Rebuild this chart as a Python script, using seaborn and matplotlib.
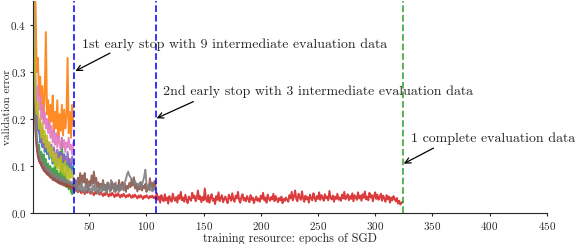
import numpy as np
import pandas as pd
import matplotlib
matplotlib.use("Agg")
import matplotlib.pyplot as plt
import seaborn as sns

# ---------------- data (validation error, in thousandths) ----------------
blue = [520, 340, 230, 200, 175, 185, 150, 170, 140, 160, 130, 150, 125, 145, 115, 140, 120, 105,
        135, 110, 125, 100, 120, 130, 105, 115, 95, 125, 100, 110, 90, 115, 95, 105, 85, 100]
orange = [750, 500, 440, 300, 330, 250, 290, 220, 270, 200, 250, 385, 210, 240, 180, 230, 195, 250,
          170, 215, 180, 240, 160, 210, 175, 230, 165, 220, 180, 205, 330, 170, 215, 160, 230, 185]
green = [480, 300, 200, 160, 130, 145, 115, 130, 105, 125, 95, 115, 90, 105, 85, 100, 80, 95,
         75, 110, 70, 90, 65, 85, 70, 160, 75, 60, 85, 55, 70, 50, 65, 45, 40, 60]
purple = [560, 360, 260, 190, 210, 170, 195, 150, 180, 140, 165, 135, 155, 125, 150, 120, 145, 115,
          140, 125, 110, 135, 120, 105, 130, 115, 125, 100, 120, 110, 130, 105, 115, 100, 120, 105]
pink = [620, 420, 260, 240, 270, 220, 250, 200, 230, 190, 215, 180, 200, 170, 195, 160, 185, 150,
        175, 145, 170, 140, 165, 150, 135, 160, 140, 155, 130, 150, 140, 160, 135, 145, 125, 150]
olive = [530, 380, 240, 210, 235, 180, 200, 160, 190, 150, 175, 140, 165, 130, 150, 120, 140, 110,
         130, 100, 125, 95, 115, 90, 120, 85, 105, 80, 110, 75, 100, 70, 95, 75, 90, 70]

brown = [450, 280, 170, 140, 120, 110, 115, 100, 105, 90, 95, 85, 90, 80, 85, 75, 80, 70,
         78, 68, 75, 65, 72, 62, 70, 60, 68, 58, 65, 60, 70, 58, 64, 55, 62, 60,
         55, 70, 50, 75, 60, 85, 58, 80, 65, 85, 55, 72, 50, 68, 58, 80, 62, 88,
         65, 75, 55, 65, 48, 62, 52, 70, 50, 60, 45, 65, 52, 58, 48, 66, 52, 62,
         45, 58, 50, 70, 48, 60, 66, 50, 62, 45, 58, 52, 64, 55, 72, 58, 76, 52,
         62, 46, 58, 50, 66, 48, 58, 52, 62, 45, 55, 50, 74, 56, 64, 48, 68, 56]
gray = [480, 300, 200, 160, 145, 130, 120, 110, 115, 100, 105, 92, 98, 88, 95, 82, 90, 78,
        85, 75, 82, 72, 78, 70, 76, 68, 74, 66, 72, 65, 70, 62, 68, 60, 66, 64,
        62, 50, 68, 45, 58, 48, 65, 45, 55, 42, 60, 48, 62, 45, 52, 42, 58, 48,
        64, 45, 55, 40, 50, 58, 45, 66, 48, 58, 42, 52, 62, 45, 70, 52, 58, 45,
        65, 48, 55, 45, 60, 50, 58, 48, 65, 72, 82, 88, 80, 76, 72, 70, 64, 68,
        60, 62, 56, 64, 52, 60, 68, 78, 92, 62, 54, 60, 48, 58, 46, 55, 50, 52]
red = [460, 290, 180, 145, 125, 115, 105, 110, 95, 100, 88, 92, 82, 86, 78, 82, 74, 78,
       70, 74, 67, 70, 64, 68, 62, 65, 60, 63, 58, 61, 56, 59, 54, 57, 52, 55,
       45, 52, 48, 44, 50, 46, 42, 48, 45, 40, 47, 43, 50, 44, 41, 46, 42, 38,
       45, 41, 47, 43, 39, 44, 40, 36, 42, 38, 44, 40, 35, 41, 37, 43, 39, 34,
       40, 36, 42, 38, 33, 39, 35, 41, 37, 33, 38, 35, 40, 36, 32, 38, 34, 39,
       35, 31, 37, 33, 38, 34, 30, 36, 33, 38, 34, 31, 36, 33, 37, 32, 35, 30,
       42, 28, 35, 22, 38, 30, 25, 40, 27, 33, 20, 36, 29, 24, 41, 31, 26, 34, 22, 38,
       30, 45, 27, 33, 24, 39, 28, 21, 35, 30, 26, 43, 32, 37, 25, 31, 48, 29, 36, 23,
       34, 27, 52, 30, 24, 38, 22, 33, 40, 26, 31, 19, 36, 28, 44, 25, 32, 38, 23, 30,
       35, 27, 21, 39, 33, 26, 42, 29, 24, 37, 31, 45, 28, 22, 34, 40, 27, 32, 25, 36,
       30, 23, 38, 28, 33, 21, 29, 35, 26, 31, 24, 37, 30, 43, 27, 33, 22, 39, 31, 26,
       34, 29, 41, 25, 36, 30, 23, 32, 27, 35, 21, 30, 26, 33, 28, 24, 38, 31, 45, 27,
       35, 48, 30, 25, 41, 33, 28, 46, 31, 24, 37, 29, 34, 22, 39, 31, 27, 42, 33, 25,
       36, 30, 44, 28, 38, 33, 26, 40, 31, 35, 27, 47, 32, 29, 37, 24, 35, 30, 41, 28,
       33, 26, 39, 31, 45, 29, 34, 40, 27, 36, 30, 42, 25, 38, 33, 28, 44, 31, 37, 26,
       40, 32, 46, 29, 35, 27, 43, 33, 38, 25, 36, 44, 30, 39, 28, 34, 41, 26, 37, 31,
       24, 38, 29, 35, 22, 33, 27, 36, 30, 25, 32, 20, 26, 18, 22, 24]

series_names = ["blue", "orange", "green", "red", "purple", "brown", "pink", "gray", "olive"]
series_values = [blue, orange, green, red, purple, brown, pink, gray, olive]
series_colors = ["#1f77b4", "#ff7f0e", "#2ca02c", "#d62728", "#9467bd",
                 "#8c564b", "#e377c2", "#7f7f7f", "#bcbd22"]

stop_epochs = [37, 108, 324]
stop_colors = ["#0000ff", "#0000ff", "#2ca02c"]
notes = ["1st early stop with 9 intermediate evaluation data",
         "2nd early stop with 3 intermediate evaluation data",
         "1 complete evaluation data"]
x_ticks = [50, 100, 150, 200, 250, 300, 350, 400, 450]
y_ticks = [0.0, 0.1, 0.2, 0.3, 0.4]

# ---------------- build table ----------------
rows = []
for name, vals in zip(series_names, series_values):
    for i, v in enumerate(vals):
        rows.append({"config": name, "epoch": i + 1, "err": v / 1000.0})
df = pd.DataFrame(rows)

sns.set_style("ticks")
plt.rcParams["font.family"] = ["cmr10", "DejaVu Serif"]
plt.rcParams["mathtext.fontset"] = "cm"
plt.rcParams["axes.formatter.use_mathtext"] = True
plt.rcParams["axes.unicode_minus"] = False

fig = plt.figure(figsize=(5.76, 2.44), dpi=100)
ax = fig.add_axes([0.0578, 0.127, 0.8913, 0.867])

sns.lineplot(data=df, x="epoch", y="err", hue="config", hue_order=series_names,
             palette=dict(zip(series_names, series_colors)), estimator=None,
             sort=False, legend=False, linewidth=1.4, alpha=0.9, ax=ax)

for xe, c in zip(stop_epochs, stop_colors):
    ax.axvline(xe, color=c, ls="--", lw=1.3, alpha=0.85)

# annotations
tips = [(37.8, 0.302), (108.8, 0.2015), (325, 0.105)]
starts = [(68, 0.34), (141, 0.237), (351, 0.138)]
text_pos = [(43.5, 0.357), (114.6, 0.258), (331.6, 0.159)]
for tip, st, tp, note in zip(tips, starts, text_pos, notes):
    ax.annotate("", xy=tip, xytext=st,
                arrowprops=dict(arrowstyle="->", color="black", lw=0.9,
                                shrinkA=0, shrinkB=0))
    ax.text(tp[0], tp[1], note, ha="left", va="center", fontsize=10, color="0.15")

ax.set_xlim(1, 450)
ax.set_ylim(0, 0.45)
ax.set_xticks(x_ticks)
ax.set_yticks(y_ticks)
ax.tick_params(labelsize=8, length=2.5, width=0.8, pad=2.5)
ax.set_xlabel("training resource: epochs of SGD", fontsize=8.7)
ax.set_ylabel("validation error", fontsize=8)
ax.yaxis.set_label_coords(-0.041, 0.5)
ax.xaxis.set_label_coords(0.5, -0.092)
sns.despine(ax=ax)

fig.savefig("out.png", dpi=100)
